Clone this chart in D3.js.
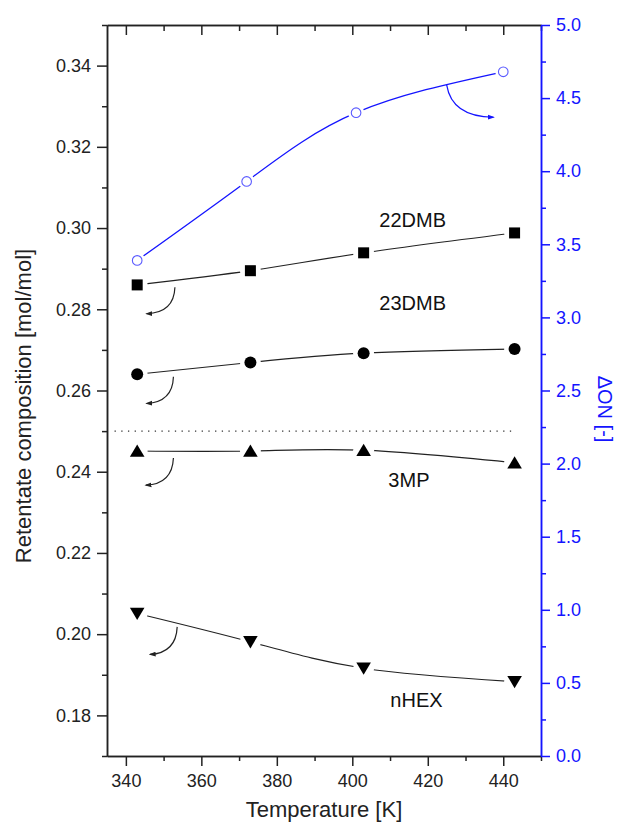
<!DOCTYPE html>
<html>
<head>
<meta charset="utf-8">
<script src="https://cdn.jsdelivr.net/npm/d3@7"></script>
<style>
  html, body { margin: 0; padding: 0; background: #fff; }
  svg { display: block; font-family: Arial, "Liberation Sans", sans-serif; }
</style>
</head>
<body>
<div id="chart"></div>
<script>
// --- data ---
const temps = [343, 373, 403, 443];
const dmb22 = [0.2860, 0.2895, 0.2939, 0.2988];
const dmb23 = [0.2640, 0.2669, 0.2692, 0.2702];
const mp3 = [0.2451, 0.2451, 0.2453, 0.2422];
const nhex = [0.2051, 0.1981, 0.1916, 0.1883];

const onTemps = [343, 372, 401, 440];
const deltaON = [3.39, 3.93, 4.40, 4.68];

const refLine = { t0: 337, t1: 443, value: 0.25 };

const xTicks = [340, 360, 380, 400, 420, 440];
const xMinor = [350, 370, 390, 410, 430, 450];
const leftTicks = [0.18, 0.20, 0.22, 0.24, 0.26, 0.28, 0.30, 0.32, 0.34];
const leftMinor = [0.17, 0.19, 0.21, 0.23, 0.25, 0.27, 0.29, 0.31, 0.33, 0.35];
const rightTicks = [0, 0.5, 1, 1.5, 2, 2.5, 3, 3.5, 4, 4.5, 5];
const rightMinor = [0.25, 0.75, 1.25, 1.75, 2.25, 2.75, 3.25, 3.75, 4.25, 4.75];

// series labels, placed in data units (baseline)
const labels = [
  { text: "22DMB", t: 416, v: 0.3003 },
  { text: "23DMB", t: 416, v: 0.2798 },
  { text: "3MP", t: 415, v: 0.2363 },
  { text: "nHEX", t: 417, v: 0.1821 }
];

// little curved arrows pointing to the axis each series belongs to
const arrows = [
  { axis: "left", from: [353.0, 0.2854], ctrl: [352.75, 0.2791], to: [345.5, 0.2789] },
  { axis: "left", from: [352.6, 0.2634], ctrl: [352.4, 0.2572], to: [345.5, 0.2568] },
  { axis: "left", from: [352.6, 0.2434], ctrl: [352.3, 0.2370], to: [345.3, 0.2367] },
  { axis: "left", from: [353.6, 0.2018], ctrl: [353.3, 0.1954], to: [346.4, 0.1950] },
  { axis: "right", from: [425.0, 4.590], ctrl: [426.4, 4.371], to: [437.4, 4.369] }
];

// 1) SVG
const width = 618;
const height = 823;
const margin = { top: 25, right: 77, bottom: 67, left: 107 };
const blue = "#1414ff";
const ink = "#222";

const svg = d3.select("#chart")
  .append("svg")
  .attr("width", width)
  .attr("height", height);

const defs = svg.append("defs");
[["head-black", ink], ["head-blue", blue]].forEach(([id, col]) => {
  defs.append("marker")
    .attr("id", id)
    .attr("viewBox", "0 0 10 10")
    .attr("refX", 8)
    .attr("refY", 5)
    .attr("markerWidth", 7)
    .attr("markerHeight", 7)
    .attr("markerUnits", "userSpaceOnUse")
    .attr("orient", "auto")
    .append("path")
    .attr("d", "M0,1.5 L10,5 L0,8.5 Z")
    .attr("fill", col);
});

// 2) Scales
const x = d3.scaleLinear().domain([335, 450]).range([margin.left, width - margin.right]);
const yL = d3.scaleLinear().domain([0.17, 0.35]).range([height - margin.bottom, margin.top]);
const yR = d3.scaleLinear().domain([0, 5]).range([height - margin.bottom, margin.top]);

// 3) Axes
function styleAxis(g, col, fontSize) {
  g.select(".domain").attr("stroke", col).attr("stroke-width", 1.5);
  g.selectAll(".tick line").attr("stroke", col).attr("stroke-width", 1.5);
  g.selectAll(".tick text").attr("fill", col).style("font-size", fontSize + "px")
    .style("font-family", "Arial, 'Liberation Sans', sans-serif");
}

const bottom = height - margin.bottom;
const right = width - margin.right;

svg.append("g")
  .attr("transform", `translate(0,${bottom})`)
  .call(d3.axisBottom(x).tickValues(xMinor).tickSize(5).tickSizeOuter(0).tickFormat(""))
  .call(g => styleAxis(g, ink, 18));
svg.append("g")
  .attr("transform", `translate(0,${bottom})`)
  .call(d3.axisBottom(x).tickValues(xTicks).tickSize(10).tickPadding(8).tickSizeOuter(0).tickFormat(d3.format("d")))
  .call(g => styleAxis(g, ink, 18));

svg.append("g")
  .attr("transform", `translate(0,${margin.top})`)
  .call(d3.axisTop(x).tickValues(xMinor).tickSize(-6).tickSizeOuter(0).tickFormat(""))
  .call(g => styleAxis(g, ink, 18));
svg.append("g")
  .attr("transform", `translate(0,${margin.top})`)
  .call(d3.axisTop(x).tickValues(xTicks).tickSize(-10).tickSizeOuter(0).tickFormat(""))
  .call(g => styleAxis(g, ink, 18));

svg.append("g")
  .attr("transform", `translate(${margin.left},0)`)
  .call(d3.axisLeft(yL).tickValues(leftMinor).tickSize(5).tickSizeOuter(0).tickFormat(""))
  .call(g => styleAxis(g, ink, 18));
svg.append("g")
  .attr("transform", `translate(${margin.left},0)`)
  .call(d3.axisLeft(yL).tickValues(leftTicks).tickSize(10).tickPadding(6).tickSizeOuter(0).tickFormat(d3.format(".2f")))
  .call(g => styleAxis(g, ink, 18));

svg.append("g")
  .attr("transform", `translate(${right},0)`)
  .call(d3.axisRight(yR).tickValues(rightMinor).tickSize(5).tickSizeOuter(0).tickFormat(""))
  .call(g => styleAxis(g, blue, 18));
svg.append("g")
  .attr("transform", `translate(${right},0)`)
  .call(d3.axisRight(yR).tickValues(rightTicks).tickSize(9).tickPadding(6).tickSizeOuter(0).tickFormat(d3.format(".1f")))
  .call(g => styleAxis(g, blue, 18));

// 4) Axis titles
svg.append("text")
  .attr("x", (margin.left + right) / 2)
  .attr("y", 817)
  .attr("text-anchor", "middle")
  .attr("fill", ink)
  .style("font-size", "22px")
  .text("Temperature [K]");

svg.append("text")
  .attr("transform", "translate(31,406) rotate(-90)")
  .attr("text-anchor", "middle")
  .attr("fill", ink)
  .style("font-size", "22px")
  .text("Retentate composition [mol/mol]");

svg.append("text")
  .attr("transform", "translate(598,409) rotate(90)")
  .attr("text-anchor", "middle")
  .attr("fill", blue)
  .style("font-size", "20px")
  .text("\u0394ON [-]");

// 5) Reference line at 0.25
svg.append("line")
  .attr("x1", x(refLine.t0))
  .attr("x2", x(refLine.t1))
  .attr("y1", yL(refLine.value))
  .attr("y2", yL(refLine.value))
  .attr("stroke", "#333")
  .attr("stroke-width", 1.3)
  .attr("stroke-dasharray", "1.3,5.4");

// 6) Lines (spline through points, with a gap round each marker)
const blackSeries = [
  { values: dmb22, shape: "square" },
  { values: dmb23, shape: "circle" },
  { values: mp3, shape: "up" },
  { values: nhex, shape: "down" }
];

const lineL = d3.line().x(d => x(d[0])).y(d => yL(d[1])).curve(d3.curveNatural);
const lineR = d3.line().x(d => x(d[0])).y(d => yR(d[1])).curve(d3.curveNatural);

blackSeries.forEach(s => {
  svg.append("path")
    .attr("d", lineL(temps.map((t, i) => [t, s.values[i]])))
    .attr("fill", "none")
    .attr("stroke", ink)
    .attr("stroke-width", 1.2);
});

svg.append("path")
  .attr("d", lineR(onTemps.map((t, i) => [t, deltaON[i]])))
  .attr("fill", "none")
  .attr("stroke", blue)
  .attr("stroke-width", 1.3);

// white patches that open the gaps
blackSeries.forEach(s => {
  svg.append("g").selectAll("circle")
    .data(temps.map((t, i) => [t, s.values[i]]))
    .join("circle")
    .attr("cx", d => x(d[0]))
    .attr("cy", d => yL(d[1]))
    .attr("r", 10.5)
    .attr("fill", "#fff");
});
svg.append("g").selectAll("circle")
  .data(onTemps.map((t, i) => [t, deltaON[i]]))
  .join("circle")
  .attr("cx", d => x(d[0]))
  .attr("cy", d => yR(d[1]))
  .attr("r", 8)
  .attr("fill", "#fff");

// 7) Markers
const shapes = {
  square: "M-5.5,-5.5 H5.5 V5.5 H-5.5 Z",
  circle: d3.symbol(d3.symbolCircle, Math.PI * 6 * 6)(),
  up: "M0,-6.5 L7.3,5.8 L-7.3,5.8 Z",
  down: "M0,6.5 L7.3,-5.8 L-7.3,-5.8 Z"
};

blackSeries.forEach(s => {
  svg.append("g").selectAll("path")
    .data(temps.map((t, i) => [t, s.values[i]]))
    .join("path")
    .attr("transform", d => `translate(${x(d[0])},${yL(d[1])})`)
    .attr("d", shapes[s.shape])
    .attr("fill", "#000");
});

svg.append("g").selectAll("circle")
  .data(onTemps.map((t, i) => [t, deltaON[i]]))
  .join("circle")
  .attr("cx", d => x(d[0]))
  .attr("cy", d => yR(d[1]))
  .attr("r", 4.8)
  .attr("fill", "#fff")
  .attr("stroke", "#5a5aff")
  .attr("stroke-width", 1.1);

// 8) Series labels
svg.append("g").selectAll("text")
  .data(labels)
  .join("text")
  .attr("x", d => x(d.t))
  .attr("y", d => yL(d.v))
  .attr("text-anchor", "middle")
  .attr("fill", "#111")
  .style("font-size", "20px")
  .text(d => d.text);

// 9) Curved arrows
svg.append("g").selectAll("path")
  .data(arrows)
  .join("path")
  .attr("d", d => {
    const ys = d.axis === "left" ? yL : yR;
    const p = q => [x(q[0]), ys(q[1])];
    const [a, c, b] = [p(d.from), p(d.ctrl), p(d.to)];
    return `M${a[0]},${a[1]} Q${c[0]},${c[1]} ${b[0]},${b[1]}`;
  })
  .attr("fill", "none")
  .attr("stroke", d => d.axis === "left" ? ink : blue)
  .attr("stroke-width", 1.2)
  .attr("marker-end", d => d.axis === "left" ? "url(#head-black)" : "url(#head-blue)");
</script>
</body>
</html>
